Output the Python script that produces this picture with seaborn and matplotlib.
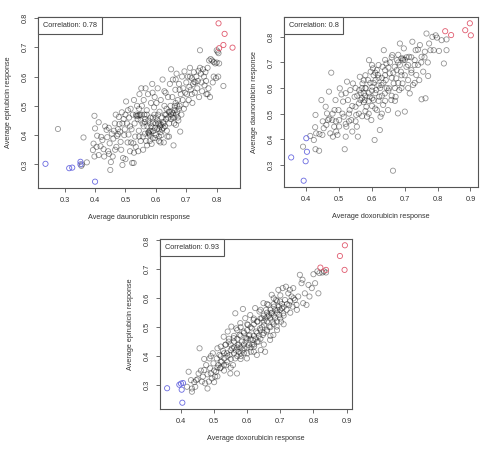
import numpy as np
import pandas as pd
import matplotlib.pyplot as plt
import seaborn as sns
from matplotlib.ticker import MultipleLocator
from matplotlib.offsetbox import AnchoredText

sns.set_theme(style="white")
plt.rcParams['font.family'] = ['Liberation Sans', 'DejaVu Sans']

# panel 1: daunorubicin (x) vs epirubicin (y)
p1_points = [
    (0.278, 0.421), (0.362, 0.392), (0.373, 0.307), (0.355, 0.295), (0.357, 0.300),
    (0.398, 0.466), (0.400, 0.423), (0.407, 0.398), (0.412, 0.444), (0.395, 0.371),
    (0.405, 0.360), (0.393, 0.349), (0.398, 0.327), (0.412, 0.332), (0.420, 0.394),
    (0.424, 0.383), (0.428, 0.352), (0.430, 0.327), (0.433, 0.430), (0.438, 0.418),
    (0.440, 0.393), (0.443, 0.345), (0.446, 0.336), (0.448, 0.372), (0.450, 0.281),
    (0.452, 0.308), (0.455, 0.405), (0.445, 0.425), (0.418, 0.362),
    (0.460, 0.388), (0.462, 0.415), (0.465, 0.440), (0.468, 0.470), (0.470, 0.360),
    (0.472, 0.397), (0.475, 0.420), (0.478, 0.462), (0.480, 0.438), (0.482, 0.412),
    (0.484, 0.377), (0.486, 0.350), (0.488, 0.478), (0.490, 0.298), (0.492, 0.322),
    (0.494, 0.455), (0.496, 0.400), (0.498, 0.420), (0.500, 0.318), (0.500, 0.470),
    (0.458, 0.327), (0.466, 0.350), (0.476, 0.403), (0.490, 0.440),
    (0.502, 0.515), (0.505, 0.440), (0.507, 0.375), (0.510, 0.402), (0.512, 0.460),
    (0.515, 0.345), (0.517, 0.490), (0.520, 0.420), (0.522, 0.305), (0.524, 0.470),
    (0.526, 0.372), (0.528, 0.520), (0.530, 0.440), (0.532, 0.395), (0.534, 0.360),
    (0.536, 0.465), (0.538, 0.500), (0.540, 0.455), (0.542, 0.345), (0.544, 0.415),
    (0.546, 0.540), (0.548, 0.470), (0.550, 0.380), (0.535, 0.470), (0.540, 0.467),
    (0.545, 0.468), (0.508, 0.485), (0.518, 0.375), (0.528, 0.340), (0.515, 0.430),
    (0.545, 0.395), (0.527, 0.305),
    (0.552, 0.560), (0.554, 0.500), (0.556, 0.440), (0.558, 0.350), (0.560, 0.520),
    (0.562, 0.470), (0.564, 0.405), (0.566, 0.560), (0.568, 0.380), (0.570, 0.485),
    (0.572, 0.430), (0.574, 0.540), (0.576, 0.410), (0.578, 0.405), (0.580, 0.400),
    (0.582, 0.460), (0.584, 0.510), (0.586, 0.370), (0.588, 0.575), (0.590, 0.440),
    (0.592, 0.415), (0.594, 0.495), (0.596, 0.530), (0.598, 0.390), (0.600, 0.460),
    (0.575, 0.408), (0.585, 0.412), (0.580, 0.415), (0.563, 0.445), (0.557, 0.395),
    (0.571, 0.365), (0.589, 0.545), (0.553, 0.470), (0.597, 0.425),
    (0.602, 0.510), (0.604, 0.420), (0.606, 0.560), (0.608, 0.440), (0.610, 0.380),
    (0.612, 0.480), (0.614, 0.430), (0.616, 0.520), (0.618, 0.400), (0.620, 0.460),
    (0.622, 0.590), (0.624, 0.445), (0.626, 0.375), (0.628, 0.500), (0.630, 0.430),
    (0.632, 0.545), (0.634, 0.470), (0.636, 0.415), (0.638, 0.395), (0.640, 0.530),
    (0.642, 0.480), (0.644, 0.440), (0.646, 0.575), (0.648, 0.500), (0.650, 0.625),
    (0.612, 0.440), (0.618, 0.435), (0.625, 0.425), (0.607, 0.470), (0.633, 0.455),
    (0.643, 0.395), (0.615, 0.375), (0.628, 0.550), (0.649, 0.455),
    (0.652, 0.480), (0.654, 0.530), (0.656, 0.590), (0.658, 0.365), (0.660, 0.460),
    (0.662, 0.500), (0.664, 0.555), (0.666, 0.435), (0.668, 0.610), (0.670, 0.480),
    (0.672, 0.520), (0.674, 0.450), (0.676, 0.575), (0.678, 0.500), (0.680, 0.412),
    (0.682, 0.540), (0.684, 0.470), (0.686, 0.600), (0.688, 0.520), (0.690, 0.560),
    (0.692, 0.490), (0.694, 0.618), (0.696, 0.545), (0.698, 0.505), (0.700, 0.580),
    (0.657, 0.475), (0.662, 0.485), (0.667, 0.470), (0.672, 0.460), (0.665, 0.590),
    (0.678, 0.555),
    (0.702, 0.540), (0.705, 0.600), (0.708, 0.520), (0.710, 0.565), (0.712, 0.630),
    (0.715, 0.555), (0.718, 0.595), (0.720, 0.510), (0.722, 0.575), (0.725, 0.615),
    (0.728, 0.545), (0.730, 0.580), (0.733, 0.600), (0.736, 0.560), (0.740, 0.620),
    (0.742, 0.530), (0.745, 0.690), (0.748, 0.610), (0.750, 0.580), (0.752, 0.550),
    (0.755, 0.625), (0.758, 0.600), (0.760, 0.570), (0.712, 0.600), (0.726, 0.582),
    (0.738, 0.585), (0.718, 0.540), (0.745, 0.630),
    (0.763, 0.615), (0.766, 0.540), (0.770, 0.630), (0.773, 0.560), (0.775, 0.655),
    (0.778, 0.530), (0.780, 0.660), (0.785, 0.655), (0.790, 0.650), (0.795, 0.645),
    (0.800, 0.690), (0.803, 0.685), (0.806, 0.680), (0.800, 0.648), (0.808, 0.645),
    (0.790, 0.600), (0.798, 0.595), (0.805, 0.600), (0.822, 0.568), (0.770, 0.540),
    (0.787, 0.580), (0.765, 0.585),
    (0.560, 0.430), (0.565, 0.455), (0.570, 0.470), (0.575, 0.450), (0.580, 0.440),
    (0.585, 0.430), (0.590, 0.460), (0.595, 0.470), (0.600, 0.440), (0.605, 0.450),
    (0.610, 0.420), (0.615, 0.410), (0.620, 0.420), (0.625, 0.440), (0.630, 0.470),
    (0.635, 0.490), (0.640, 0.460), (0.645, 0.480), (0.650, 0.470), (0.655, 0.460),
    (0.660, 0.440), (0.665, 0.510), (0.670, 0.500), (0.675, 0.490), (0.580, 0.380),
    (0.590, 0.390), (0.600, 0.400), (0.610, 0.395), (0.550, 0.450), (0.545, 0.490),
]
p1_low = [(0.237, 0.302), (0.315, 0.287), (0.325, 0.289), (0.352, 0.309), (0.352, 0.300), (0.400, 0.241)]
p1_high = [(0.806, 0.782), (0.826, 0.746), (0.822, 0.708), (0.808, 0.697), (0.852, 0.699)]

# panel 2: doxorubicin (x) vs daunorubicin (y)
p2_points = [
    (0.390, 0.371), (0.412, 0.413), (0.423, 0.397), (0.428, 0.361), (0.439, 0.355),
    (0.428, 0.495), (0.427, 0.447), (0.430, 0.423), (0.446, 0.553), (0.449, 0.417),
    (0.453, 0.443), (0.459, 0.527), (0.463, 0.501), (0.466, 0.475), (0.461, 0.456),
    (0.469, 0.586), (0.476, 0.660), (0.473, 0.423), (0.479, 0.475), (0.481, 0.410),
    (0.486, 0.514), (0.485, 0.449), (0.491, 0.430), (0.489, 0.553), (0.495, 0.417),
    (0.500, 0.475), (0.498, 0.514), (0.502, 0.599), (0.507, 0.575), (0.512, 0.547),
    (0.514, 0.488), (0.517, 0.361), (0.520, 0.410), (0.522, 0.449), (0.524, 0.625),
    (0.527, 0.553), (0.532, 0.514), (0.534, 0.592), (0.537, 0.475), (0.540, 0.430),
    (0.542, 0.618), (0.547, 0.566), (0.550, 0.527), (0.552, 0.495), (0.554, 0.449),
    (0.557, 0.410), (0.561, 0.592), (0.563, 0.644), (0.565, 0.553), (0.571, 0.618),
    (0.575, 0.579), (0.578, 0.553), (0.581, 0.599), (0.583, 0.527), (0.585, 0.488),
    (0.588, 0.631), (0.591, 0.709), (0.593, 0.566), (0.596, 0.664), (0.598, 0.475),
    (0.601, 0.605), (0.603, 0.677), (0.605, 0.553), (0.608, 0.397), (0.611, 0.631),
    (0.613, 0.592), (0.615, 0.514), (0.618, 0.651), (0.622, 0.566), (0.624, 0.436),
    (0.626, 0.488), (0.629, 0.612), (0.632, 0.683), (0.634, 0.534), (0.636, 0.748),
    (0.639, 0.579), (0.642, 0.631), (0.644, 0.696), (0.649, 0.514), (0.652, 0.599),
    (0.654, 0.657), (0.659, 0.553), (0.662, 0.729), (0.664, 0.277), (0.666, 0.618),
    (0.669, 0.683), (0.672, 0.566), (0.674, 0.638), (0.676, 0.709), (0.679, 0.501),
    (0.683, 0.592), (0.685, 0.774), (0.688, 0.664), (0.690, 0.716), (0.693, 0.618),
    (0.695, 0.709), (0.700, 0.508), (0.697, 0.755), (0.705, 0.683), (0.710, 0.631),
    (0.713, 0.722), (0.715, 0.579), (0.720, 0.670), (0.723, 0.781), (0.725, 0.612),
    (0.730, 0.709), (0.733, 0.748), (0.735, 0.651), (0.740, 0.690), (0.744, 0.631),
    (0.746, 0.768), (0.751, 0.722), (0.751, 0.556), (0.756, 0.664), (0.761, 0.742),
    (0.763, 0.560), (0.766, 0.813), (0.771, 0.647), (0.774, 0.774), (0.778, 0.748),
    (0.784, 0.800), (0.788, 0.748), (0.794, 0.806), (0.798, 0.797), (0.804, 0.745),
    (0.812, 0.787), (0.819, 0.696), (0.827, 0.748), (0.827, 0.790),
    (0.570, 0.560), (0.575, 0.545), (0.580, 0.570), (0.590, 0.580), (0.600, 0.590),
    (0.605, 0.620), (0.610, 0.660), (0.615, 0.670), (0.620, 0.640), (0.625, 0.600),
    (0.630, 0.570), (0.635, 0.620), (0.640, 0.650), (0.645, 0.600), (0.650, 0.680),
    (0.655, 0.700), (0.660, 0.640), (0.665, 0.660), (0.670, 0.600), (0.675, 0.670),
    (0.680, 0.700), (0.685, 0.690), (0.690, 0.650), (0.695, 0.715), (0.700, 0.710),
    (0.705, 0.720), (0.710, 0.690), (0.720, 0.720), (0.730, 0.690), (0.740, 0.750),
    (0.555, 0.570), (0.560, 0.540), (0.565, 0.580), (0.580, 0.600), (0.590, 0.550),
    (0.600, 0.560), (0.610, 0.580), (0.620, 0.610), (0.630, 0.640), (0.640, 0.670),
    (0.595, 0.620), (0.605, 0.650), (0.520, 0.580), (0.530, 0.500), (0.540, 0.530),
    (0.550, 0.600), (0.560, 0.500), (0.570, 0.490), (0.580, 0.510), (0.590, 0.500),
    (0.600, 0.530), (0.610, 0.520), (0.620, 0.550), (0.630, 0.500), (0.640, 0.550),
    (0.650, 0.590), (0.660, 0.570), (0.670, 0.550), (0.680, 0.620), (0.690, 0.600),
    (0.700, 0.650), (0.710, 0.600), (0.720, 0.660), (0.730, 0.620), (0.750, 0.700),
    (0.760, 0.720), (0.770, 0.700), (0.680, 0.730), (0.660, 0.720), (0.640, 0.710),
    (0.620, 0.690), (0.600, 0.690), (0.580, 0.650), (0.575, 0.630), (0.570, 0.600),
    (0.500, 0.450), (0.510, 0.500), (0.520, 0.460), (0.530, 0.470), (0.550, 0.470),
    (0.470, 0.480), (0.480, 0.500), (0.490, 0.470), (0.450, 0.470), (0.440, 0.420),
]
p2_low = [(0.354, 0.329), (0.400, 0.404), (0.402, 0.351), (0.398, 0.314), (0.392, 0.238)]
p2_high = [(0.823, 0.822), (0.841, 0.807), (0.884, 0.826), (0.898, 0.853), (0.901, 0.806)]

# panel 3: doxorubicin (x) vs epirubicin (y)
p3_points = [
    (0.418, 0.294), (0.423, 0.346), (0.430, 0.317), (0.433, 0.277), (0.433, 0.288),
    (0.443, 0.294), (0.446, 0.317), (0.453, 0.340), (0.456, 0.427), (0.463, 0.312),
    (0.466, 0.329), (0.470, 0.352), (0.473, 0.306), (0.476, 0.369), (0.480, 0.288),
    (0.480, 0.337), (0.484, 0.312), (0.486, 0.392), (0.488, 0.358), (0.493, 0.323),
    (0.496, 0.410), (0.498, 0.375), (0.503, 0.329), (0.506, 0.346), (0.508, 0.392),
    (0.510, 0.427), (0.513, 0.369), (0.516, 0.404), (0.518, 0.358), (0.520, 0.433),
    (0.523, 0.381), (0.527, 0.418), (0.529, 0.467), (0.531, 0.392), (0.534, 0.439),
    (0.537, 0.369), (0.539, 0.410), (0.541, 0.485), (0.544, 0.450), (0.547, 0.404),
    (0.549, 0.340), (0.552, 0.502), (0.554, 0.427), (0.557, 0.369), (0.559, 0.462),
    (0.564, 0.548), (0.564, 0.392), (0.567, 0.496), (0.569, 0.340), (0.571, 0.439),
    (0.574, 0.415), (0.577, 0.473), (0.579, 0.514), (0.581, 0.400), (0.584, 0.450),
    (0.587, 0.563), (0.589, 0.485), (0.591, 0.427), (0.594, 0.531), (0.597, 0.462),
    (0.599, 0.392), (0.602, 0.508), (0.604, 0.439), (0.607, 0.473), (0.609, 0.542),
    (0.611, 0.415), (0.614, 0.496), (0.617, 0.456), (0.619, 0.525), (0.621, 0.433),
    (0.624, 0.566), (0.627, 0.485), (0.629, 0.404), (0.631, 0.519), (0.634, 0.450),
    (0.637, 0.554), (0.639, 0.496), (0.641, 0.421), (0.644, 0.531), (0.647, 0.473),
    (0.649, 0.583), (0.651, 0.508), (0.654, 0.415), (0.657, 0.560), (0.659, 0.485),
    (0.661, 0.537), (0.664, 0.577), (0.667, 0.502), (0.669, 0.456), (0.672, 0.548),
    (0.674, 0.612), (0.677, 0.519), (0.679, 0.473), (0.681, 0.571), (0.684, 0.531),
    (0.687, 0.594), (0.689, 0.502), (0.691, 0.560), (0.694, 0.629), (0.697, 0.542),
    (0.699, 0.589), (0.702, 0.519), (0.705, 0.566), (0.707, 0.635), (0.709, 0.548),
    (0.714, 0.594), (0.717, 0.640), (0.719, 0.560), (0.724, 0.617), (0.727, 0.577),
    (0.729, 0.629), (0.734, 0.606), (0.737, 0.571), (0.739, 0.635), (0.744, 0.594),
    (0.749, 0.577), (0.754, 0.606), (0.759, 0.681), (0.764, 0.652), (0.767, 0.664),
    (0.769, 0.583), (0.774, 0.617), (0.779, 0.577), (0.785, 0.646), (0.788, 0.606),
    (0.795, 0.635), (0.800, 0.683), (0.805, 0.652), (0.812, 0.693), (0.815, 0.617),
    (0.818, 0.687), (0.827, 0.689), (0.832, 0.693), (0.838, 0.689),
    (0.550, 0.420), (0.560, 0.430), (0.565, 0.420), (0.570, 0.430), (0.575, 0.440),
    (0.580, 0.430), (0.585, 0.420), (0.590, 0.440), (0.595, 0.450), (0.600, 0.460),
    (0.605, 0.470), (0.610, 0.460), (0.615, 0.440), (0.620, 0.470), (0.625, 0.460),
    (0.630, 0.480), (0.635, 0.470), (0.640, 0.490), (0.645, 0.500), (0.650, 0.520),
    (0.655, 0.530), (0.660, 0.520), (0.665, 0.540), (0.670, 0.530), (0.675, 0.550),
    (0.680, 0.540), (0.685, 0.560), (0.690, 0.550), (0.695, 0.570), (0.700, 0.560),
    (0.705, 0.580), (0.710, 0.570), (0.720, 0.580), (0.730, 0.590), (0.740, 0.600),
    (0.610, 0.430), (0.620, 0.440), (0.600, 0.430), (0.590, 0.410), (0.580, 0.410),
    (0.570, 0.400), (0.560, 0.410), (0.550, 0.390), (0.540, 0.380), (0.530, 0.370),
    (0.520, 0.380), (0.510, 0.360), (0.500, 0.350), (0.490, 0.340), (0.520, 0.400),
    (0.530, 0.410), (0.540, 0.400), (0.550, 0.440), (0.560, 0.450), (0.570, 0.460),
    (0.580, 0.470), (0.590, 0.480), (0.600, 0.490), (0.610, 0.500), (0.620, 0.510),
    (0.630, 0.520), (0.640, 0.530), (0.650, 0.540), (0.660, 0.550), (0.670, 0.560),
    (0.680, 0.580), (0.690, 0.590), (0.630, 0.450), (0.640, 0.460), (0.650, 0.480),
    (0.660, 0.490), (0.670, 0.500), (0.680, 0.510), (0.690, 0.520), (0.700, 0.530),
    (0.710, 0.540),
    (0.470, 0.390), (0.490, 0.400), (0.500, 0.310), (0.510, 0.330), (0.530, 0.350),
    (0.550, 0.360), (0.560, 0.470), (0.570, 0.490), (0.580, 0.500), (0.600, 0.510),
    (0.620, 0.530), (0.640, 0.560), (0.660, 0.580), (0.680, 0.600), (0.700, 0.610),
    (0.650, 0.440), (0.670, 0.470), (0.690, 0.490), (0.710, 0.510), (0.730, 0.550),
    (0.750, 0.560), (0.600, 0.410), (0.620, 0.415), (0.580, 0.390), (0.450, 0.320),
    (0.440, 0.310), (0.460, 0.350), (0.520, 0.360), (0.535, 0.440), (0.545, 0.460),
]
p3_low = [(0.358, 0.289), (0.395, 0.301), (0.400, 0.305), (0.406, 0.307), (0.402, 0.284), (0.404, 0.239)]
p3_high = [(0.895, 0.783), (0.880, 0.746), (0.821, 0.706), (0.838, 0.698), (0.894, 0.698)]

panels = [
    dict(pts=p1_points, low=p1_low, high=p1_high, corr="Correlation: 0.78",
         xlabel="Average daunorubicin response", ylabel="Average epirubicin response",
         rect=(38, 17, 240, 188)),
    dict(pts=p2_points, low=p2_low, high=p2_high, corr="Correlation: 0.8",
         xlabel="Average doxorubicin response", ylabel="Average daunorubicin response",
         rect=(284, 17, 478, 187)),
    dict(pts=p3_points, low=p3_low, high=p3_high, corr="Correlation: 0.93",
         xlabel="Average doxorubicin response", ylabel="Average epirubicin response",
         rect=(160, 239, 352, 409)),
]

W, H = 483, 450
fig = plt.figure(figsize=(W / 100, H / 100), dpi=100)
fig.patch.set_facecolor("white")

colors = {"mid": (0, 0, 0, 0.42), "low": "#6a6ae0", "high": "#e05a6e"}
text_col = "#333333"
edge_col = "#555555"

for p in panels:
    l, t, r, b = p["rect"]
    ax = fig.add_axes([l / W, 1 - b / H, (r - l) / W, (b - t) / H])
    frames = []
    for key, grp in (("mid", p["pts"]), ("low", p["low"]), ("high", p["high"])):
        d = pd.DataFrame(grp, columns=["x", "y"])
        d["grp"] = key
        frames.append(d)
    df = pd.concat(frames, ignore_index=True)
    for key in ("mid", "low", "high"):
        sub = df[df["grp"] == key]
        sns.scatterplot(data=sub, x="x", y="y", ax=ax, marker="o", s=14,
                        color=colors[key], edgecolor=colors[key], facecolor="none",
                        linewidth=0.6, legend=False)
    ax.margins(0.04)
    ax.xaxis.set_major_locator(MultipleLocator(0.1))
    ax.yaxis.set_major_locator(MultipleLocator(0.1))
    ax.tick_params(axis="both", which="major", direction="out", length=3, width=0.6,
                   pad=3.5, labelsize=5.3, colors=edge_col, labelcolor=text_col,
                   bottom=True, left=True)
    for lab in ax.get_yticklabels():
        lab.set_rotation(90)
        lab.set_va("center")
    for sp in ax.spines.values():
        sp.set_visible(True)
        sp.set_color(edge_col)
        sp.set_linewidth(0.8)
    ax.set_xlabel(p["xlabel"], fontsize=5.2, color=text_col, labelpad=7)
    ax.set_ylabel(p["ylabel"], fontsize=5.2, color=text_col, labelpad=7)
    at = AnchoredText(p["corr"], loc="upper left", borderpad=0, pad=0.65,
                      prop=dict(size=5.3, color=text_col), frameon=True)
    at.patch.set_edgecolor(edge_col)
    at.patch.set_linewidth(0.8)
    at.patch.set_boxstyle("square,pad=0")
    ax.add_artist(at)

fig.savefig("out.png", dpi=100)
